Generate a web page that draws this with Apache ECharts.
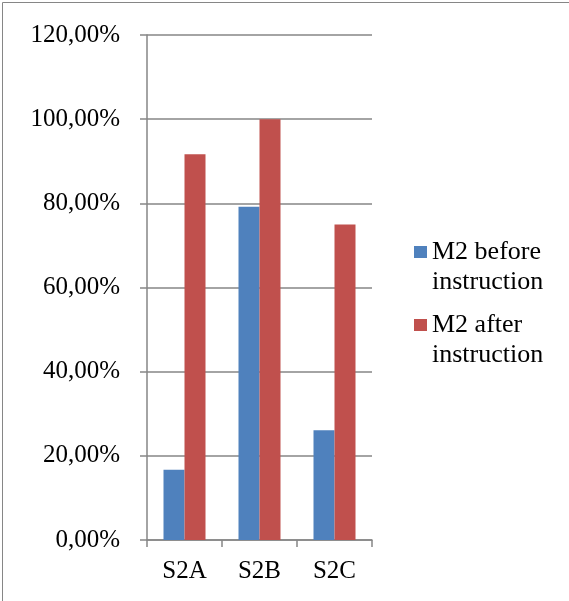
<!DOCTYPE html>
<html>
<head>
<meta charset="utf-8">
<script src="https://cdn.jsdelivr.net/npm/echarts@6/dist/echarts.min.js"></script>
<style>
html,body{margin:0;padding:0;background:#fff;}
#c{width:569px;height:601px;}
</style>
</head>
<body>
<div id="c"></div>
<script>
const categories = ['S2A', 'S2B', 'S2C'];
const beforeValues = [16.67, 79.17, 26.09];
const afterValues = [91.67, 100, 75];
const seriesNames = ['M2 before instruction', 'M2 after instruction'];

const chart = echarts.init(document.getElementById('c'));
const font = 'Liberation Serif';
chart.setOption({
  animation: false,
  backgroundColor: '#fff',
  graphic: [{
    type: 'rect', left: 0, top: 0,
    shape: {x: 0.5, y: 0.5, width: 567, height: 599},
    style: {fill: 'none', stroke: '#868686', lineWidth: 1}
  }],
  grid: {left: 147, right: 197, top: 35, bottom: 61},
  legend: {
    orient: 'vertical',
    left: 409, top: 202,
    itemWidth: 13, itemHeight: 12,
    itemGap: -17,
    icon: 'rect',
    formatter: n => ' \n' + n.replace(' instruction', '\ninstruction'),
    textStyle: {fontFamily: font, fontSize: 26, color: '#000', lineHeight: 30},
    data: seriesNames
  },
  xAxis: {
    type: 'category',
    data: categories,
    axisLine: {lineStyle: {color: '#868686', width: 1.5}},
    axisTick: {show: true, length: 7, lineStyle: {color: '#868686', width: 1.5}},
    axisLabel: {fontFamily: font, fontSize: 25, color: '#000', margin: 19}
  },
  yAxis: {
    type: 'value',
    min: 0, max: 120, interval: 20,
    axisLine: {show: true, lineStyle: {color: '#868686', width: 1.5}},
    axisTick: {show: true, length: 7, lineStyle: {color: '#868686', width: 1.5}},
    splitLine: {lineStyle: {color: '#868686', width: 1.5}},
    axisLabel: {fontFamily: font, fontSize: 25, color: '#000', margin: 27,
      formatter: v => v.toFixed(2).replace('.', ',') + '%'}
  },
  series: [
    {name: seriesNames[0], type: 'bar', data: beforeValues, itemStyle: {color: '#4F81BD'},
     barGap: '0%', barCategoryGap: '44%'},
    {name: seriesNames[1], type: 'bar', data: afterValues, itemStyle: {color: '#C0504D'},
     barGap: '0%', barCategoryGap: '44%'}
  ]
});
</script>
</body>
</html>
